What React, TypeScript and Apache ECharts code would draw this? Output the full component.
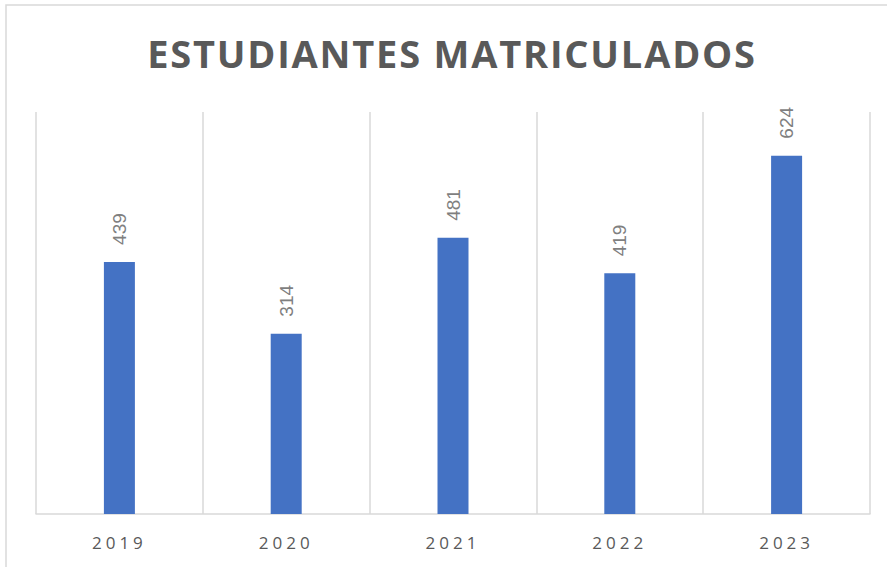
import React, { useEffect, useRef } from "react";
import * as echarts from "echarts";

const titleText = "ESTUDIANTES MATRICULADOS";
const years = ["2019", "2020", "2021", "2022", "2023"];
const students = [439, 314, 481, 419, 624];

export default function App() {
  const ref = useRef<HTMLDivElement>(null);
  useEffect(() => {
    if (!ref.current) return;
    const chart = echarts.init(ref.current, null, { renderer: "svg" });
    chart.setOption({
      animation: false,
      backgroundColor: "#ffffff",
      graphic: [
        {
          type: "rect",
          shape: { x: 6, y: 5, width: 900, height: 600 },
          style: { fill: "none", stroke: "#d9d9d9", lineWidth: 1.5 },
          silent: true,
        },
        {
          type: "text",
          x: 452,
          y: 53,
          style: {
            text: titleText,
            fontFamily: "Open Sans",
            fontWeight: "bold",
            fontSize: 38,
            fill: "#595959",
            align: "center",
            verticalAlign: "middle",
          },
        },
      ],
      grid: { left: 36, right: 17, top: 112, bottom: 53, containLabel: false },
      xAxis: {
        type: "category",
        data: years,
        axisLine: { show: true, lineStyle: { color: "#d9d9d9", width: 1.5 } },
        axisTick: { show: false },
        splitLine: { show: true, lineStyle: { color: "#d9d9d9", width: 1.5 } },
        axisLabel: {
          color: "#595959",
          fontFamily: "Open Sans",
          fontSize: 17,
          margin: 20,
        },
      },
      yAxis: {
        type: "value",
        min: 0,
        max: 700,
        show: false,
        splitLine: { show: false },
      },
      series: [
        {
          type: "bar",
          data: students,
          barWidth: 31,
          itemStyle: { color: "#4472C4" },
          label: {
            show: true,
            position: "top",
            rotate: 90,
            align: "left",
            verticalAlign: "middle",
            distance: 17,
            color: "#7f7f7f",
            fontFamily: "Liberation Sans",
            fontSize: 19,
          },
        },
      ],
    });
    return () => chart.dispose();
  }, []);
  return (
    <>
      <style>{`
        #chartbox text[style*="38px"] { letter-spacing: 1.8px; }
        #chartbox text[style*="17px"] { letter-spacing: 4px; }
      `}</style>
      <div
        id="chartbox"
        ref={ref}
        style={{ position: "absolute", left: 0, top: 0, width: 887, height: 567 }}
      />
    </>
  );
}
